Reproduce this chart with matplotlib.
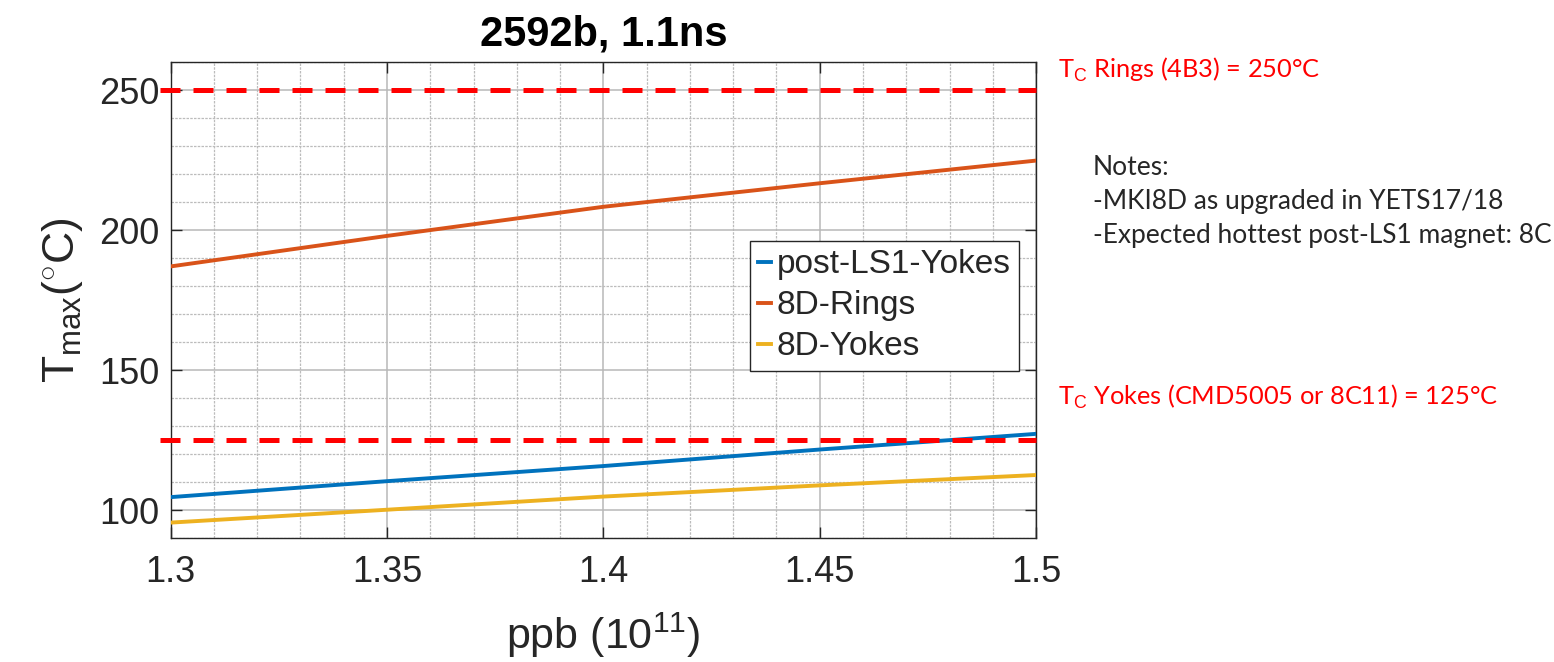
import matplotlib
matplotlib.use("Agg")
import matplotlib.pyplot as plt

plt.rcParams['font.family'] = ['Liberation Sans', 'DejaVu Sans']
plt.rcParams['mathtext.fontset'] = 'custom'
plt.rcParams['mathtext.rm'] = 'Liberation Sans'
plt.rcParams['mathtext.it'] = 'Liberation Sans:italic'
plt.rcParams['mathtext.bf'] = 'Liberation Sans:bold'

# Data
ppb = [1.30, 1.35, 1.40, 1.45, 1.50]
post_ls1_yokes = [104.6, 110.3, 115.7, 121.6, 127.2]
rings_8d = [187.0, 197.9, 208.3, 216.7, 224.8]
yokes_8d = [95.5, 100.1, 104.8, 108.8, 112.5]

tc_rings = 250
tc_yokes = 125

xticks = [1.3, 1.35, 1.4, 1.45, 1.5]
xtick_labels = ['1.3', '1.35', '1.4', '1.45', '1.5']
yticks = [100, 150, 200, 250]

fig = plt.figure(figsize=(15.54, 6.62), dpi=100)
ax = fig.add_axes([0.1098, 0.1873, 0.5569, 0.7190])

ax.plot(ppb, post_ls1_yokes, color='#0072BD', lw=2.8, label='post-LS1-Yokes', zorder=3)
ax.plot(ppb, rings_8d, color='#D95319', lw=2.8, label='8D-Rings', zorder=3)
ax.plot(ppb, yokes_8d, color='#EDB120', lw=2.8, label='8D-Yokes', zorder=3)

# critical temperature thresholds
for t in (tc_rings, tc_yokes):
    ax.axhline(t, xmin=-0.012, xmax=1.0, color='#FF0000', lw=3.6,
               linestyle=(0, (4, 2.6)), clip_on=False, zorder=4)

ax.set_xlim(1.3, 1.5)
ax.set_ylim(90, 260)
ax.set_xticks(xticks)
ax.set_xticklabels(xtick_labels)
ax.set_yticks(yticks)
ax.set_xticks([1.3 + 0.01 * i for i in range(21)], minor=True)
ax.set_yticks(list(range(90, 261, 10)), minor=True)

ax.grid(True, which='major', color='#b8b8b8', lw=1.1)
ax.grid(True, which='minor', color='#bcbcbc', lw=0.9, linestyle=(0, (2, 1)))
ax.set_axisbelow(True)

ax.tick_params(which='major', direction='in', length=8, width=1, colors='#262626',
               labelsize=26, top=True, right=True)
ax.tick_params(which='minor', length=0)
ax.tick_params(axis='x', pad=12)
ax.tick_params(axis='y', pad=8)
for s in ax.spines.values():
    s.set_color('#262626')
    s.set_linewidth(1.0)

ax.set_title('2592b, 1.1ns', fontsize=30, fontweight='bold', pad=12)
ax.set_xlabel(r'ppb (10$^{11}$)', fontsize=31, color='#262626', labelpad=15)
ax.set_ylabel(r'T$_{\mathrm{max}}$($^{\circ}$C)', fontsize=32, color='#262626', labelpad=10)

leg = ax.legend(loc='upper right', bbox_to_anchor=(0.980, 0.624), borderaxespad=0,
                fontsize=24, handlelength=0.4, handletextpad=0.15, labelspacing=0.3,
                borderpad=0.25, fancybox=False, framealpha=1, edgecolor='#262626')
leg.get_frame().set_linewidth(1.0)
for txt in leg.get_texts():
    txt.set_color('#262626')

# side annotations
note_font = ['Lato', 'DejaVu Sans']
fig.text(1058 / 1554, 1 - 70 / 662, r'T$_{\mathrm{C}}$ Rings (4B3) = 250°C', color='#FF0000',
         fontsize=18.3, family=note_font, va='center', ha='left')
fig.text(1058 / 1554, 1 - 397 / 662, r'T$_{\mathrm{C}}$ Yokes (CMD5005 or 8C11) = 125°C',
         color='#FF0000', fontsize=18.3, family=note_font, va='center', ha='left')
notes = ['Notes:', '-MKI8D as upgraded in YETS17/18', '-Expected hottest post-LS1 magnet: 8C']
for i, line in enumerate(notes):
    fig.text(1093 / 1554, 1 - (167 + 34 * i) / 662, line, color='#262626',
             fontsize=19, family=note_font, va='center', ha='left')

fig.savefig('out.png', dpi=100)
